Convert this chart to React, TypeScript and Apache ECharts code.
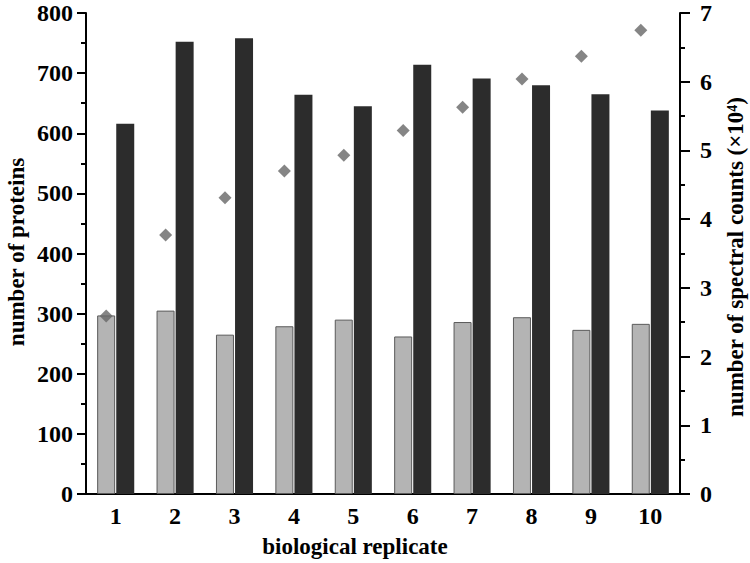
import React, { useEffect, useRef } from "react";
import * as echarts from "echarts";

const categories = ["1", "2", "3", "4", "5", "6", "7", "8", "9", "10"];
const greyBars = [297, 305, 265, 279, 290, 262, 286, 294, 273, 283];
const blackBars = [616, 752, 758, 664, 645, 714, 691, 680, 665, 638];
const spectralCounts = [2.59, 3.77, 4.31, 4.7, 4.93, 5.29, 5.63, 6.04, 6.37, 6.75];

const FONT = "'Liberation Serif', 'Times New Roman', serif";

export default function App() {
  const ref = useRef<HTMLDivElement>(null);
  useEffect(() => {
    if (!ref.current) return;
    const chart = echarts.init(ref.current, null, { renderer: "svg" });
    const axisLine = { show: true, lineStyle: { color: "#000", width: 2 } };
    const tickFont = {
      color: "#000",
      fontFamily: FONT,
      fontWeight: "bold",
      fontSize: 24,
    };
    chart.setOption({
      animation: false,
      backgroundColor: "#fff",
      grid: { left: 86, right: 70, top: 13, bottom: 69, containLabel: false },
      xAxis: {
        type: "category",
        data: categories,
        axisLine,
        axisTick: { show: false },
        axisLabel: { margin: 10, ...tickFont },
      },
      yAxis: [
        {
          type: "value",
          min: 0,
          max: 800,
          interval: 100,
          position: "left",
          axisLine,
          axisTick: { show: true, inside: false, length: 9, lineStyle: { color: "#000", width: 2 } },
          minorTick: { show: true, splitNumber: 2, length: 5, lineStyle: { color: "#000", width: 2 } },
          splitLine: { show: false },
          axisLabel: { margin: 13, ...tickFont },
        },
        {
          type: "value",
          min: 0,
          max: 7,
          interval: 1,
          position: "right",
          axisLine,
          axisTick: { show: true, inside: false, length: 10, lineStyle: { color: "#000", width: 2 } },
          minorTick: { show: true, splitNumber: 2, length: 5, lineStyle: { color: "#000", width: 2 } },
          splitLine: { show: false },
          axisLabel: { margin: 20, ...tickFont },
        },
      ],
      series: [
        {
          type: "bar",
          data: greyBars,
          barWidth: 18,
          barGap: "6%",
          itemStyle: { color: "#b4b4b4", borderColor: "#5a5a5a", borderWidth: 1 },
        },
        {
          type: "bar",
          data: blackBars,
          barWidth: 18,
          barGap: "6%",
          itemStyle: { color: "#2c2c2c" },
        },
        {
          type: "scatter",
          yAxisIndex: 1,
          data: spectralCounts,
          symbol: "diamond",
          symbolSize: 13,
          symbolOffset: [-9.5, 0],
          itemStyle: { color: "#666666" },
          z: 5,
        },
      ],
      graphic: [
        {
          type: "text",
          x: 355,
          y: 546,
          style: {
            text: "biological replicate",
            fontFamily: FONT,
            fontWeight: "bold",
            fontSize: 23,
            fill: "#000",
            align: "center",
            verticalAlign: "middle",
          },
        },
        {
          type: "text",
          x: 16,
          y: 252,
          rotation: Math.PI / 2,
          style: {
            text: "number of proteins",
            fontFamily: FONT,
            fontWeight: "bold",
            fontSize: 23,
            fill: "#000",
            align: "center",
            verticalAlign: "middle",
          },
        },
        {
          type: "text",
          x: 735,
          y: 257,
          rotation: Math.PI / 2,
          style: {
            text: "number of spectral counts (×10⁴)",
            fontFamily: FONT,
            fontWeight: "bold",
            fontSize: 23,
            fill: "#000",
            align: "center",
            verticalAlign: "middle",
          },
        },
      ],
    });
    return () => chart.dispose();
  }, []);
  return <div ref={ref} style={{ width: 750, height: 563, position: "absolute", left: 0, top: 0 }} />;
}
